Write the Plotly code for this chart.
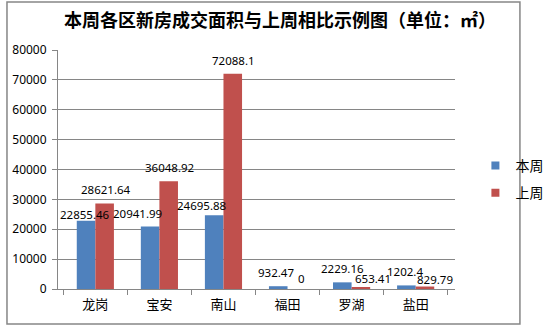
import plotly.graph_objects as go

categories = ["龙岗", "宝安", "南山", "福田", "罗湖", "盐田"]
this_week = [22855.46, 20941.99, 24695.88, 932.47, 2229.16, 1202.4]
last_week = [28621.64, 36048.92, 72088.1, 0, 653.41, 829.79]
y_ticks = [0, 10000, 20000, 30000, 40000, 50000, 60000, 70000, 80000]

# label nudges (px) reproducing how the reference spreads crowded data labels
this_week_label_dx = [0, -12, -12, -1, 1, 0]
this_week_label_dy = [-7, -1, -4, 0, 0, 0]
last_week_label_dx = [0, 0, 0, 4, 11, 9]
last_week_label_dy = [0, 0, 0, -3, -5, -6]

FONT = "Noto Sans, Noto Sans CJK SC"
BLUE, RED = "#4F81BD", "#C0504D"

def fmt(v):
    return ("%.2f" % v).rstrip("0").rstrip(".")

W, H = 560, 326
L, R, T, B = 58, 74, 50, 37
pw, ph = W - L - R, H - T - B
BARGAP = 0.42
bar_w = pw / len(categories) * (1 - BARGAP) / 2

fig = go.Figure()
fig.add_trace(go.Bar(name="本周", x=categories, y=this_week,
                     marker=dict(color=BLUE, line=dict(width=0)), showlegend=False))
fig.add_trace(go.Bar(name="上周", x=categories, y=last_week,
                     marker=dict(color=RED, line=dict(width=0)), showlegend=False))
# legend entries with small square markers
fig.add_trace(go.Scatter(name="本周", x=[None], y=[None], mode="markers",
                         marker=dict(symbol="square", size=8, color=BLUE), legendgroup="a"))
fig.add_trace(go.Scatter(name="上周", x=[None], y=[None], mode="markers",
                         marker=dict(symbol="square", size=8, color=RED), legendgroup="b"))

lab_font = dict(size=11.5, family=FONT, color="#000000")
annotations = []
for cat, v, dx, dy in zip(categories, this_week, this_week_label_dx, this_week_label_dy):
    annotations.append(dict(x=cat, y=v, text=fmt(v), xref="x", yref="y", showarrow=False,
                            xshift=-bar_w / 2 + dx, yanchor="bottom", yshift=4 + dy, font=lab_font))
for cat, v, dx, dy in zip(categories, last_week, last_week_label_dx, last_week_label_dy):
    annotations.append(dict(x=cat, y=v, text=fmt(v), xref="x", yref="y", showarrow=False,
                            xshift=bar_w / 2 + dx, yanchor="bottom", yshift=4 + dy, font=lab_font))

fig.update_layout(
    width=W, height=H,
    margin=dict(l=L, r=R, t=T, b=B),
    paper_bgcolor="white", plot_bgcolor="white",
    barmode="group", bargap=BARGAP, bargroupgap=0,
    font=dict(family=FONT, size=12, color="#000000"),
    title=dict(text="本周各区新房成交面积与上周相比示例图（单位：㎡）",
               x=0.5, xanchor="center", y=1 - 21 / H, yanchor="middle",
               font=dict(size=18, family="Noto Sans CJK SC", color="#000000", weight="bold")),
    showlegend=True,
    legend=dict(x=(508 - L) / pw, xanchor="left", y=(289 - 150) / ph, yanchor="top",
                font=dict(size=14, family="Noto Sans CJK SC"), bgcolor="rgba(0,0,0,0)",
                traceorder="grouped", tracegroupgap=6, itemwidth=30),
    annotations=annotations,
    xaxis=dict(
        showline=True, linecolor="#868686", linewidth=1,
        ticks="outside", tickson="boundaries", ticklen=5, tickcolor="#868686",
        tickfont=dict(size=13, family="Noto Sans CJK SC"), ticklabelstandoff=3,
        showgrid=False,
    ),
    yaxis=dict(
        range=[0, 80000], tickvals=y_ticks, tickformat="d",
        showline=True, linecolor="#868686", linewidth=1,
        ticks="outside", ticklen=5, tickcolor="#868686",
        showgrid=True, gridcolor="#868686", gridwidth=1,
        zeroline=False, tickfont=dict(size=12), ticklabelstandoff=3,
    ),
    shapes=[dict(type="rect", xref="paper", yref="paper",
                 x0=(3 - L) / pw, x1=(556 - L) / pw,
                 y0=(H - B - 324) / ph, y1=(H - B - 2) / ph,
                 line=dict(color="#868686", width=1.5), fillcolor="rgba(0,0,0,0)",
                 layer="below")],
)

fig.write_html("out.html")
